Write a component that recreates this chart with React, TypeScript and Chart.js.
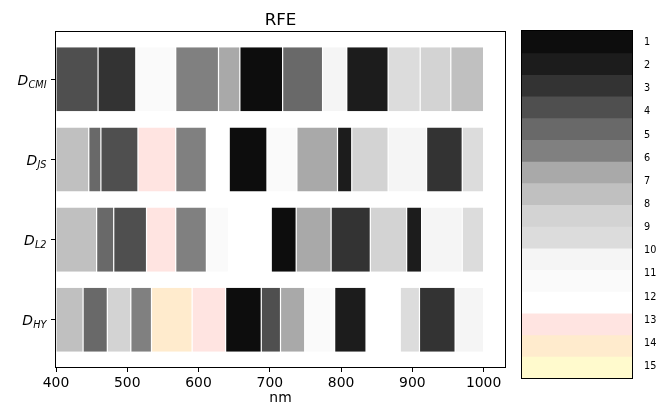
import React, { useEffect, useRef } from 'react';
import { Chart, registerables } from 'chart.js';

Chart.register(...registerables);

// ---- data ----
const ROW_NAMES = ['CMI', 'JS', 'L2', 'HY'];
const TITLE = 'RFE';
const X_LABEL = 'nm';
const X_TICKS = [400, 500, 600, 700, 800, 900, 1000];

// 16-step colour map used for the ranks
const PALETTE = [
  '#0d0d0d', '#1c1c1c', '#333333', '#4f4f4f', '#696969', '#808080', '#a9a9a9', '#c0c0c0',
  '#d3d3d3', '#dcdcdc', '#f5f5f5', '#fafafa', '#ffffff', '#ffe4e1', '#ffebcd', '#fffacd',
];

// wavelength band edges (nm) and colour index per band, one pair of arrays per row
const CMI_EDGES = [400, 459, 512, 568, 628, 658, 718, 774, 808, 866, 911, 954, 1000];
const CMI_SHADES = [3, 2, 11, 5, 6, 0, 4, 10, 1, 9, 8, 7];
const JS_EDGES = [400, 446, 463, 515, 568, 611, 643, 696, 738, 795, 815, 866, 920, 970, 1000];
const JS_SHADES = [7, 4, 3, 13, 5, 12, 0, 11, 6, 1, 8, 10, 2, 9];
const L2_EDGES = [400, 457, 481, 527, 568, 611, 642, 702, 737, 786, 841, 892, 913, 970, 1000];
const L2_SHADES = [7, 4, 3, 13, 5, 11, 12, 0, 6, 2, 8, 1, 10, 9];
const HY_EDGES = [400, 438, 472, 505, 534, 591, 638, 688, 715, 749, 791, 835, 883, 910, 960, 1000];
const HY_SHADES = [7, 4, 8, 5, 14, 13, 0, 3, 6, 11, 1, 12, 9, 2, 10];

const ROW_EDGES = [CMI_EDGES, JS_EDGES, L2_EDGES, HY_EDGES];
const ROW_SHADES = [CMI_SHADES, JS_SHADES, L2_SHADES, HY_SHADES];

// colour bar
const CB_TICKS = [1, 2, 3, 4, 5, 6, 7, 8, 9, 10, 11, 12, 13, 14, 15];
const CB_BOUNDS = [
  0.5, 1.4375, 2.375, 3.3125, 4.25, 5.1875, 6.125, 7.0625, 8,
  8.9375, 9.875, 10.8125, 11.75, 12.6875, 13.625, 14.5625, 15.5,
];

const FONT = 'DejaVu Sans';

const framePlugin = {
  id: 'frame',
  afterDraw(chart: any) {
    const { ctx, chartArea } = chart;
    const l = Math.round(chartArea.left);
    const t = Math.round(chartArea.top);
    const r = Math.round(chartArea.right);
    const b = Math.round(chartArea.bottom);
    ctx.save();
    ctx.strokeStyle = '#000';
    ctx.lineWidth = 1;
    ctx.strokeRect(l - 0.5, t - 0.5, r - l + 1, b - t + 1);
    ctx.restore();
  },
};

const rowLabelPlugin = {
  id: 'rowLabels',
  afterDraw(chart: any) {
    const { ctx } = chart;
    const yScale = chart.scales.y;
    const right = 46.5;
    ctx.save();
    ctx.fillStyle = '#000';
    ctx.textBaseline = 'alphabetic';
    ctx.textAlign = 'right';
    ROW_NAMES.forEach((name, i) => {
      const y = yScale.getPixelForValue(i);
      const base = y + 5.6;
      ctx.font = `italic 9.7px "${FONT}"`;
      const subW = ctx.measureText(name).width;
      ctx.fillText(name, right, base + 2.8);
      ctx.font = `italic 13.9px "${FONT}"`;
      ctx.fillText('D', right - subW - 0.3, base);
    });
    ctx.restore();
  },
};

export default function App() {
  const mainRef = useRef<HTMLCanvasElement>(null);
  const cbRef = useRef<HTMLCanvasElement>(null);

  useEffect(() => {
    const data: any[] = [];
    const colors: string[] = [];
    ROW_EDGES.forEach((edges, row) => {
      const shades = ROW_SHADES[row];
      for (let j = 0; j < shades.length; j++) {
        data.push({ x: [edges[j], edges[j + 1]], y: row });
        colors.push(PALETTE[shades[j]]);
      }
    });

    const tickFont = { family: FONT, size: 13.9 };

    const main = new Chart(mainRef.current as HTMLCanvasElement, {
      type: 'bar',
      data: {
        datasets: [
          {
            label: TITLE,
            data,
            backgroundColor: colors,
            borderColor: '#ffffff',
            borderWidth: { left: 0.6, right: 0.6, top: 0, bottom: 0 },
            borderSkipped: false,
            categoryPercentage: 1,
            barPercentage: 0.8,
          } as any,
        ],
      },
      options: {
        indexAxis: 'y',
        animation: false,
        responsive: false,
        events: [],
        layout: { padding: { left: 0, right: 152, top: 0, bottom: 0 } },
        plugins: {
          legend: { display: false },
          tooltip: { enabled: false },
          title: {
            display: true,
            text: TITLE,
            fullSize: false,
            color: '#000',
            font: { family: FONT, size: 16.7, weight: 'normal', lineHeight: 1.2 },
            padding: { top: 10.3, bottom: 1.7 },
          },
        },
        scales: {
          x: {
            type: 'linear',
            min: 400,
            max: 1030,
            offset: false,
            afterBuildTicks: (s: any) => {
              s.ticks = X_TICKS.map((v) => ({ value: v }));
            },
            afterFit: (s: any) => {
              s.height = 37;
            },
            ticks: { font: tickFont, color: '#000', padding: 3, maxRotation: 0, callback: (v: any) => String(v) },
            grid: { offset: false, drawOnChartArea: false, drawTicks: true, tickLength: 5, tickColor: '#000', tickWidth: 1 },
            border: { display: false },
            title: {
              display: true,
              text: X_LABEL,
              color: '#000',
              font: { family: FONT, size: 13.9, lineHeight: 1.2 },
              padding: { top: 0, bottom: -3 },
            },
          },
          y: {
            type: 'linear',
            min: -0.59,
            max: 3.59,
            reverse: true,
            offset: false,
            afterBuildTicks: (s: any) => {
              s.ticks = ROW_NAMES.map((_, i) => ({ value: i }));
            },
            afterFit: (s: any) => {
              s.width = 56;
            },
            ticks: { display: false },
            grid: { offset: false, drawOnChartArea: false, drawTicks: true, tickLength: 5, tickColor: '#000', tickWidth: 1 },
            border: { display: false },
          },
        },
      } as any,
      plugins: [framePlugin, rowLabelPlugin],
    });

    const cb = new Chart(cbRef.current as HTMLCanvasElement, {
      type: 'bar',
      data: {
        labels: [''],
        datasets: PALETTE.map((c, k) => ({
          data: [[CB_BOUNDS[k], CB_BOUNDS[k + 1]]],
          backgroundColor: c,
          borderWidth: 0,
          grouped: false,
          categoryPercentage: 1,
          barPercentage: 1,
          inflateAmount: 0.5,
        })) as any,
      },
      options: {
        animation: false,
        responsive: false,
        events: [],
        layout: { padding: { left: 22, top: 31, bottom: 26, right: 0 } },
        plugins: { legend: { display: false }, tooltip: { enabled: false }, title: { display: false } },
        scales: {
          x: { display: false },
          y: {
            type: 'linear',
            position: 'right',
            min: 0.5,
            max: 15.5,
            reverse: true,
            offset: false,
            afterBuildTicks: (s: any) => {
              s.ticks = CB_TICKS.map((v) => ({ value: v }));
            },
            afterFit: (s: any) => {
              s.width = 25;
            },
            ticks: { font: { family: FONT, size: 9.7 }, color: '#000', padding: 12 },
            grid: { display: false, drawTicks: false },
            border: { display: false },
          },
        },
      } as any,
      plugins: [framePlugin],
    });

    return () => {
      main.destroy();
      cb.destroy();
    };
  }, []);

  return (
    <div style={{ position: 'fixed', left: 0, top: 0, width: 657, height: 404, background: '#fff' }}>
      <canvas ref={mainRef} width={657} height={404} style={{ position: 'absolute', left: 0, top: 0 }} />
      <canvas ref={cbRef} width={157} height={404} style={{ position: 'absolute', left: 500, top: 0 }} />
    </div>
  );
}
